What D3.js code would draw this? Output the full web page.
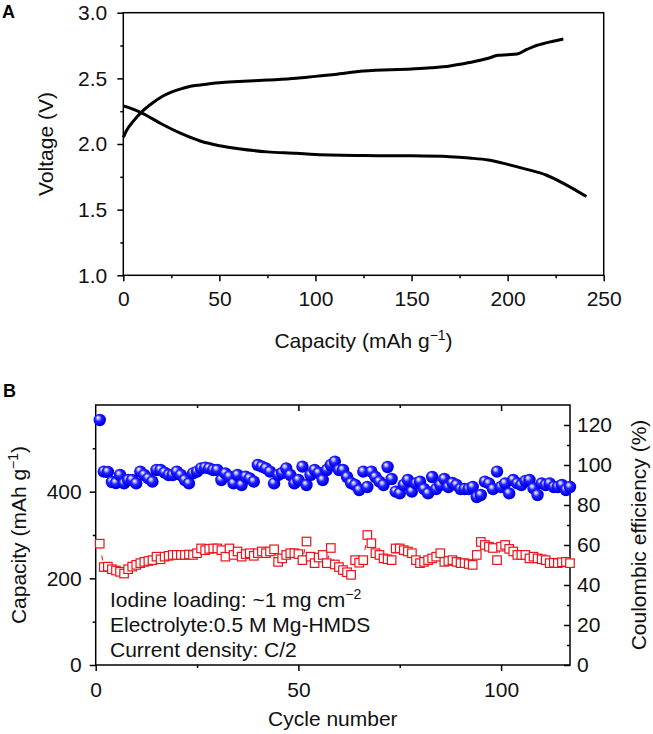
<!DOCTYPE html>
<html><head><meta charset="utf-8">
<script src="https://cdn.jsdelivr.net/npm/d3@7"></script>
<style>body{margin:0;background:#fff}</style>
</head><body>
<svg id="chart" width="653" height="734"></svg>
<script>
// ---------- Panel A data (voltage profile) ----------
const chargeCapacity = [0, 2, 5, 10, 15, 20, 25, 30, 35, 40, 50, 60, 75, 90, 100, 110, 125, 150, 160, 170, 180, 190, 195, 200, 205, 210, 215, 220, 229];
const chargeVoltage  = [2.05, 2.11, 2.17, 2.25, 2.31, 2.36, 2.395, 2.42, 2.44, 2.45, 2.467, 2.476, 2.487, 2.50, 2.515, 2.53, 2.556, 2.571, 2.58, 2.594, 2.62, 2.653, 2.676, 2.68, 2.686, 2.72, 2.75, 2.77, 2.80];
const dischargeCapacity = [0, 5, 10, 20, 30, 40, 50, 60, 75, 90, 100, 125, 150, 170, 180, 190, 200, 210, 220, 230, 241];
const dischargeVoltage  = [2.29, 2.265, 2.234, 2.152, 2.08, 2.023, 1.987, 1.964, 1.94, 1.929, 1.92, 1.912, 1.91, 1.903, 1.893, 1.878, 1.845, 1.807, 1.764, 1.693, 1.60];
const capTicksA = [0, 50, 100, 150, 200, 250];
const capMinorA = [25, 75, 125, 175, 225];
const voltTicksA = [1.0, 1.5, 2.0, 2.5, 3.0];
const voltMinorA = [1.25, 1.75, 2.25, 2.75];

// ---------- Panel B data (cycling) ----------
const cycles = d3.range(1, 118);
const capacity = [280,226,227,221,218,215,211,221,227,231,235,238,240,242,250,244,250,252,254,254,
  254,254,255,254,258,269,265,268,269,269,265,250,269,254,262,250,256,258,252,258,
  262,258,262,267,238,246,254,258,258,256,242,285,250,235,248,254,235,270,232,226,
  219,214,208,242,236,242,300,281,258,254,246,244,242,269,269,265,262,258,242,235,
  238,242,246,250,258,238,240,242,238,235,235,233,231,254,284,277,273,270,242,273,
  277,268,262,254,254,254,246,250,246,244,242,235,236,235,237,238,235];
const coulombic = [122.5,96.7,96.5,91.5,91,95,90.8,92.5,92.5,90.8,96.7,95,93.3,91.7,97.5,97.5,96.2,95,95,96.7,
  95,92.5,90.8,95.8,96.7,98.3,98.7,98.3,97.5,97.5,92.5,95.8,94.2,90.8,95,90,94.2,93.3,91.7,100,
  99.2,98.3,96.7,90.8,95,96,98.3,95,90.8,92.5,99.2,90,95,97.5,96,92.5,97.5,100,101.7,97.5,
  97.5,94,91,90,87.5,96.7,89,96.7,94,91.7,90,99,93,86.7,85.8,90,92.5,86.7,90.8,91.7,
  88,85.8,94,88,90,93,89,91,90,88,88,88,89,84,85,91.7,90.8,88,96.7,89,
  90.8,85.8,92.5,90.8,90,92,92.5,88.3,85,90.8,90,90.8,89,89,90,87.5,89];
const cycleTicks = [0, 50, 100];
const cycleMinor = [25, 75];
const capTicksB = [0, 200, 400];
const capMinorB = [100, 300, 500];
const ceTicks = [0, 20, 40, 60, 80, 100, 120];
const ceMinor = [10, 30, 50, 70, 90, 110];
const notes = ["Iodine loading: ~1 mg cm", "Electrolyte:0.5 M Mg-HMDS", "Current density: C/2"];

// ---------- drawing ----------
const FONT = '"Liberation Sans", Arial, Helvetica, sans-serif';
const FS = 21;
const svg = d3.select("#chart");

function styleAxis(g, showText) {
  g.attr("font-family", FONT).attr("font-size", FS);
  g.select(".domain").remove();
  g.selectAll(".tick line").attr("stroke", "#000").attr("stroke-width", 1.5);
  g.selectAll(".tick text").attr("fill", "#111");
  if (!showText) g.selectAll(".tick text").remove();
}

// Panel A
const ax = d3.scaleLinear().domain([0, 250]).range([123.3, 603.7]);
const ay = d3.scaleLinear().domain([1, 3]).range([275.3, 12.7]);
const gA = svg.append("g");
gA.append("g").attr("transform", `translate(0,${ay(1)})`)
  .call(d3.axisBottom(ax).tickValues(capTicksA).tickSize(6).tickPadding(10).tickFormat(d3.format("d")))
  .call(g => styleAxis(g, true));
gA.append("g").attr("transform", `translate(0,${ay(1)})`)
  .call(d3.axisBottom(ax).tickValues(capMinorA).tickSize(3))
  .call(g => styleAxis(g, false));
gA.append("g").attr("transform", `translate(${ax(0)},0)`)
  .call(d3.axisLeft(ay).tickValues(voltTicksA).tickSize(6).tickPadding(10).tickFormat(d3.format(".1f")))
  .call(g => styleAxis(g, true));
gA.append("g").attr("transform", `translate(${ax(0)},0)`)
  .call(d3.axisLeft(ay).tickValues(voltMinorA).tickSize(3))
  .call(g => styleAxis(g, false));
gA.append("rect").attr("x", ax(0)).attr("y", ay(3)).attr("width", ax(250) - ax(0)).attr("height", ay(1) - ay(3))
  .attr("fill", "none").attr("stroke", "#000").attr("stroke-width", 1.5);

const lineA = d3.line().curve(d3.curveMonotoneX);
gA.append("path").attr("d", lineA(chargeCapacity.map((c, i) => [ax(c), ay(chargeVoltage[i])])))
  .attr("fill", "none").attr("stroke", "#000").attr("stroke-width", 3).attr("stroke-linejoin", "round");
gA.append("path").attr("d", lineA(dischargeCapacity.map((c, i) => [ax(c), ay(dischargeVoltage[i])])))
  .attr("fill", "none").attr("stroke", "#000").attr("stroke-width", 3).attr("stroke-linejoin", "round");

gA.append("text").attr("x", 2).attr("y", 18).attr("font-family", FONT).attr("font-weight", "bold").attr("font-size", 18).text("A");
gA.append("text").attr("transform", `translate(53,${(ay(1) + ay(3)) / 2}) rotate(-90)`)
  .attr("text-anchor", "middle").attr("font-family", FONT).attr("font-size", FS).attr("fill", "#111").text("Voltage (V)");
const xtA = gA.append("text").attr("x", (ax(0) + ax(250)) / 2).attr("y", 348)
  .attr("text-anchor", "middle").attr("font-family", FONT).attr("font-size", FS).attr("fill", "#111");
xtA.append("tspan").text("Capacity (mAh g");
xtA.append("tspan").attr("font-size", 14).attr("dy", -8).text("\u22121");
xtA.append("tspan").attr("dy", 8).text(")");

// Panel B
const bx = d3.scaleLinear().domain([0, 117]).range([95.7, 570]);
const by = d3.scaleLinear().domain([0, 600]).range([665, 405]);
const bce = d3.scaleLinear().domain([0, 130]).range([665, 405]);
const gB = svg.append("g");
gB.append("g").attr("transform", `translate(0,${by(0)})`)
  .call(d3.axisBottom(bx).tickValues(cycleTicks).tickSize(6).tickPadding(11).tickFormat(d3.format("d")))
  .call(g => styleAxis(g, true));
gB.append("g").attr("transform", `translate(0,${by(0)})`)
  .call(d3.axisBottom(bx).tickValues(cycleMinor).tickSize(3))
  .call(g => styleAxis(g, false));
gB.append("g").attr("transform", `translate(0,${by(600)})`)
  .call(d3.axisTop(bx).tickValues(cycleTicks.filter(d => d > 0)).tickSize(-6))
  .call(g => styleAxis(g, false));
gB.append("g").attr("transform", `translate(0,${by(600)})`)
  .call(d3.axisTop(bx).tickValues(cycleMinor).tickSize(-3))
  .call(g => styleAxis(g, false));
gB.append("g").attr("transform", `translate(${bx(0)},0)`)
  .call(d3.axisLeft(by).tickValues(capTicksB).tickSize(6).tickPadding(8).tickFormat(d3.format("d")))
  .call(g => styleAxis(g, true));
gB.append("g").attr("transform", `translate(${bx(0)},0)`)
  .call(d3.axisLeft(by).tickValues(capMinorB).tickSize(3))
  .call(g => styleAxis(g, false));
gB.append("g").attr("transform", `translate(${bx(117)},0)`)
  .call(d3.axisRight(bce).tickValues(ceTicks).tickSize(-6).tickPadding(7).tickFormat(d3.format("d")))
  .call(g => styleAxis(g, true));
gB.append("g").attr("transform", `translate(${bx(117)},0)`)
  .call(d3.axisRight(bce).tickValues(ceMinor).tickSize(-3))
  .call(g => styleAxis(g, false));
gB.select("g:last-child");
gB.append("rect").attr("x", bx(0)).attr("y", by(600)).attr("width", bx(117) - bx(0)).attr("height", by(0) - by(600))
  .attr("fill", "none").attr("stroke", "#000").attr("stroke-width", 1.5);

// red capacity: dashed connector + hollow squares
const lineB = d3.line();
gB.append("path").attr("d", lineB(cycles.map((c, i) => [bx(c), by(capacity[i])])))
  .attr("fill", "none").attr("stroke", "#e8141c").attr("stroke-width", 1).attr("stroke-dasharray", "5,7");
const SQ = 8.5;
gB.append("g").selectAll("rect").data(cycles).join("rect")
  .attr("x", (c) => bx(c) - SQ / 2).attr("y", (c, i) => by(capacity[i]) - SQ / 2)
  .attr("width", SQ).attr("height", SQ)
  .attr("fill", "#fff").attr("stroke", "#e8141c").attr("stroke-width", 1.2);

// blue coulombic efficiency spheres
const defs = svg.append("defs");
const grad = defs.append("radialGradient").attr("id", "sphere")
  .attr("cx", "45%").attr("cy", "45%").attr("r", "60%").attr("fx", "35%").attr("fy", "30%");
grad.append("stop").attr("offset", "0%").attr("stop-color", "#ffffff");
grad.append("stop").attr("offset", "18%").attr("stop-color", "#b4b4ff");
grad.append("stop").attr("offset", "42%").attr("stop-color", "#2626ff");
grad.append("stop").attr("offset", "80%").attr("stop-color", "#0000f0");
grad.append("stop").attr("offset", "100%").attr("stop-color", "#0000b8");
gB.append("g").selectAll("circle").data(cycles).join("circle")
  .attr("cx", (c) => bx(c)).attr("cy", (c, i) => bce(coulombic[i])).attr("r", 6.2)
  .attr("fill", "url(#sphere)");

// annotations
const noteY = [607, 632, 657];
notes.forEach((t, i) => {
  const tx = gB.append("text").attr("x", 110).attr("y", noteY[i])
    .attr("font-family", FONT).attr("font-size", FS).attr("fill", "#111");
  tx.append("tspan").text(t);
  if (i === 0) tx.append("tspan").attr("font-size", 14).attr("dy", -8).text("\u22122");
});

gB.append("text").attr("x", 3).attr("y", 397).attr("font-family", FONT).attr("font-weight", "bold").attr("font-size", 18).text("B");
const ytB = gB.append("text").attr("transform", `translate(26,${(by(0) + by(600)) / 2}) rotate(-90)`)
  .attr("text-anchor", "middle").attr("font-family", FONT).attr("font-size", FS).attr("fill", "#111");
ytB.append("tspan").text("Capacity (mAh g");
ytB.append("tspan").attr("font-size", 14).attr("dy", -8).text("\u22121");
ytB.append("tspan").attr("dy", 8).text(")");
gB.append("text").attr("transform", `translate(646,${(by(0) + by(600)) / 2}) rotate(-90)`)
  .attr("text-anchor", "middle").attr("font-family", FONT).attr("font-size", FS).attr("fill", "#111")
  .text("Coulombic efficiency (%)");
gB.append("text").attr("x", (bx(0) + bx(117)) / 2).attr("y", 726)
  .attr("text-anchor", "middle").attr("font-family", FONT).attr("font-size", FS).attr("fill", "#111")
  .text("Cycle number");
</script>
</body></html>
